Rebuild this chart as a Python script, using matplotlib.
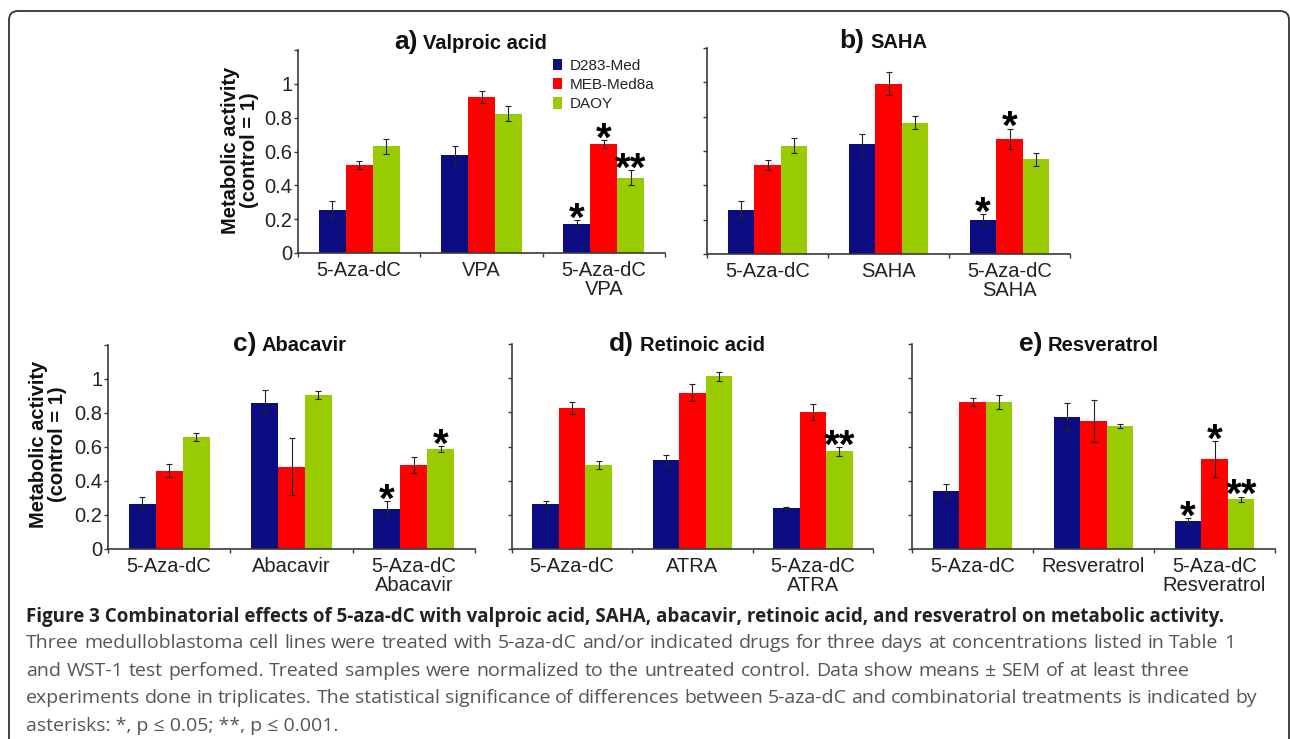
import matplotlib
matplotlib.use('Agg')
import matplotlib.pyplot as plt
import numpy as np
from matplotlib.patches import FancyBboxPatch
from matplotlib.transforms import IdentityTransform

plt.rcParams['font.family'] = ['Liberation Sans', 'DejaVu Sans']

W, H, DPI = 1290, 739, 100

# ---------------- data ----------------
series = ['D283-Med', 'MEB-Med8a', 'DAOY']
colors = ['#0B0B82', '#FF0000', '#99CC00']

a_title = ('a)', 'Valproic acid')
a_labels = ['5-Aza-dC', 'VPA', '5-Aza-dC\nVPA']
a_d283 = [0.256, 0.579, 0.171]
a_d283_err = [0.049, 0.051, 0.024]
a_meb = [0.518, 0.923, 0.644]
a_meb_err = [0.023, 0.034, 0.023]
a_daoy = [0.630, 0.823, 0.445]
a_daoy_err = [0.043, 0.045, 0.043]
a_stars = [['', '', '*'], ['', '', '*'], ['', '', '**']]

b_title = ('b)', 'SAHA')
b_labels = ['5-Aza-dC', 'SAHA', '5-Aza-dC\nSAHA']
b_d283 = [0.258, 0.641, 0.200]
b_d283_err = [0.049, 0.058, 0.031]
b_meb = [0.517, 0.992, 0.670]
b_meb_err = [0.029, 0.068, 0.060]
b_daoy = [0.631, 0.765, 0.551]
b_daoy_err = [0.045, 0.039, 0.039]
b_stars = [['', '', '*'], ['', '', '*'], ['', '', '']]

c_title = ('c)', 'Abacavir')
c_labels = ['5-Aza-dC', 'Abacavir', '5-Aza-dC\nAbacavir']
c_d283 = [0.264, 0.861, 0.233]
c_d283_err = [0.039, 0.072, 0.047]
c_meb = [0.460, 0.485, 0.493]
c_meb_err = [0.039, 0.168, 0.047]
c_daoy = [0.658, 0.904, 0.587]
c_daoy_err = [0.025, 0.024, 0.016]
c_stars = [['', '', '*'], ['', '', ''], ['', '', '*']]

d_title = ('d)', 'Retinoic acid')
d_labels = ['5-Aza-dC', 'ATRA', '5-Aza-dC\nATRA']
d_d283 = [0.263, 0.519, 0.240]
d_d283_err = [0.016, 0.033, 0.006]
d_meb = [0.825, 0.916, 0.801]
d_meb_err = [0.035, 0.051, 0.045]
d_daoy = [0.491, 1.012, 0.571]
d_daoy_err = [0.023, 0.027, 0.025]
d_stars = [['', '', ''], ['', '', ''], ['', '', '**']]

e_title = ('e)', 'Resveratrol')
e_labels = ['5-Aza-dC', 'Resveratrol', '5-Aza-dC\nResveratrol']
e_d283 = [0.339, 0.772, 0.164]
e_d283_err = [0.043, 0.080, 0.017]
e_meb = [0.858, 0.749, 0.526]
e_meb_err = [0.023, 0.123, 0.105]
e_daoy = [0.862, 0.719, 0.290]
e_daoy_err = [0.041, 0.012, 0.017]
e_stars = [['', '', '*'], ['', '', '*'], ['', '', '**']]

y_ticks = [0, 0.2, 0.4, 0.6, 0.8, 1.0, 1.2]
y_ticklabels = ['0', '0.2', '0.4', '0.6', '0.8', '1', '']
y_label = 'Metabolic activity\n(control = 1)'

caption_title = ('Figure 3 Combinatorial effects of 5-aza-dC with valproic acid, SAHA, '
                 'abacavir, retinoic acid, and resveratrol on metabolic activity.')
caption_lines = [
    'Three medulloblastoma cell lines were treated with 5-aza-dC and/or indicated drugs for three days at concentrations listed in Table 1',
    'and WST-1 test perfomed. Treated samples were normalized to the untreated control. Data show means \u00b1 SEM of at least three',
    'experiments done in triplicates. The statistical significance of differences between 5-aza-dC and combinatorial treatments is indicated by',
    'asterisks: *, p \u2264 0.05; **, p \u2264 0.001.',
]

# ---------------- figure ----------------
fig = plt.figure(figsize=(W / DPI, H / DPI), dpi=DPI)


def fx(px):
    return px / W


def fy(py):
    return 1 - py / H


def make_axes(left, top, right, bottom):
    return fig.add_axes([fx(left), fy(bottom), fx(right - left), (bottom - top) / H])


def draw_panel(ax, labels, vals, errs, stars, show_ylabels):
    x = np.arange(len(labels))
    w = 0.22
    offs = [-w, 0, w]
    for i, (v, e, c) in enumerate(zip(vals, errs, colors)):
        ax.bar(x + offs[i], v, w, color=c, label=series[i], zorder=2,
               yerr=e, capsize=2.2,
               error_kw=dict(elinewidth=0.8, ecolor='#222222', capthick=0.8))
        for j in range(len(labels)):
            s = stars[i][j]
            if s:
                ax.annotate(s, (x[j] + offs[i], v[j] + e[j]), xytext=(0, -7.5),
                            textcoords='offset points', ha='center', va='baseline',
                            fontsize=29, fontweight='bold', color='black')
    ax.set_xlim(-0.5, 2.5)
    ax.set_ylim(0, 1.2)
    for sp in ['top', 'right']:
        ax.spines[sp].set_visible(False)
    for sp in ['left', 'bottom']:
        ax.spines[sp].set_color('#3a3a3a')
        ax.spines[sp].set_linewidth(1.2)
    ax.set_yticks(y_ticks)
    if show_ylabels:
        ax.set_yticklabels(y_ticklabels)
    else:
        ax.set_yticklabels([''] * len(y_ticks))
    ax.tick_params(axis='y', direction='out', length=3, width=1, color='#3a3a3a',
                   pad=1, labelsize=14.5, labelcolor='#222222')
    ax.set_xticks(x)
    ax.set_xticklabels(labels)
    ax.set_xticks([-0.5, 0.5, 1.5, 2.5], minor=True)
    ax.tick_params(axis='x', which='major', length=0, pad=6, labelsize=14.5,
                   labelcolor='#222222')
    ax.tick_params(axis='x', which='minor', direction='out', length=3, width=1,
                   color='#3a3a3a')
    for t in ax.get_xticklabels():
        t.set_linespacing(1.0)


def panel_title(title, x_right, x_left, y_base):
    fig.text(fx(x_right), fy(y_base), title[0], ha='right', va='baseline',
             fontsize=19, fontweight='bold', color='#111111')
    fig.text(fx(x_left), fy(y_base), title[1], ha='left', va='baseline',
             fontsize=14.5, fontweight='bold', color='#111111')


# panel a
ax_a = make_axes(298, 50, 665, 253)
draw_panel(ax_a, a_labels, [a_d283, a_meb, a_daoy], [a_d283_err, a_meb_err, a_daoy_err],
           a_stars, True)
panel_title(a_title, 418, 423, 49)
leg = ax_a.legend(loc='upper left', bbox_to_anchor=((553 - 298) / 367, (253 - 59) / 203),
                  frameon=False, fontsize=11, handlelength=0.6, handleheight=0.75,
                  handletextpad=0.5, labelspacing=0.34, borderpad=0, borderaxespad=0)
for t in leg.get_texts():
    t.set_color('#222222')

# panel b
ax_b = make_axes(707, 48, 1070, 254)
draw_panel(ax_b, b_labels, [b_d283, b_meb, b_daoy], [b_d283_err, b_meb_err, b_daoy_err],
           b_stars, False)
panel_title(b_title, 864, 870, 48)

# panel c
ax_c = make_axes(108, 345, 475, 549)
draw_panel(ax_c, c_labels, [c_d283, c_meb, c_daoy], [c_d283_err, c_meb_err, c_daoy_err],
           c_stars, True)
panel_title(c_title, 256, 262, 351)

# panel d
ax_d = make_axes(512, 344, 873, 549)
draw_panel(ax_d, d_labels, [d_d283, d_meb, d_daoy], [d_d283_err, d_meb_err, d_daoy_err],
           d_stars, False)
panel_title(d_title, 634, 640, 351)

# panel e
ax_e = make_axes(912, 344, 1275, 549)
draw_panel(ax_e, e_labels, [e_d283, e_meb, e_daoy], [e_d283_err, e_meb_err, e_daoy_err],
           e_stars, False)
panel_title(e_title, 1043, 1048, 351)

# y labels
fig.text(fx(240), fy(150), y_label, rotation=90, ha='center', va='center',
         multialignment='center', fontsize=14.5, fontweight='bold', linespacing=0.95,
         color='#111111')
fig.text(fx(48), fy(444), y_label, rotation=90, ha='center', va='center',
         multialignment='center', fontsize=14.5, fontweight='bold', linespacing=0.95,
         color='#111111')

# border
border = FancyBboxPatch((9, -30), 1280, 739 - 11 + 30,
                        boxstyle='round,pad=0,rounding_size=9',
                        transform=IdentityTransform(), fill=False,
                        edgecolor='#333333', linewidth=1.3)
fig.patches.append(border)

# caption
cap_font = ['Open Sans', 'DejaVu Sans']
fig.text(fx(26), fy(622), caption_title, ha='left', va='baseline',
         family=cap_font, fontsize=13.5, fontweight='bold', color='#222222')

BODY_SIZE = 14.0
renderer = fig.canvas.get_renderer()
line_ends = [1235, 1190, 1257, None]
line_bases = [648, 676, 703, 731]
for line, xend, yb in zip(caption_lines, line_ends, line_bases):
    if xend is None:
        fig.text(fx(26), fy(yb), line, ha='left', va='baseline', family=cap_font,
                 fontsize=BODY_SIZE, color='#555555')
        continue
    words = line.split(' ')
    texts = [fig.text(0, 0, wd, ha='left', va='baseline', family=cap_font,
                      fontsize=BODY_SIZE, color='#555555') for wd in words]
    widths = [t.get_window_extent(renderer).width for t in texts]
    gap = max((xend - 26 - sum(widths)) / (len(words) - 1), 3.0)
    xp = 26
    for t, wd in zip(texts, widths):
        t.set_position((fx(xp), fy(yb)))
        xp += wd + gap

fig.savefig('out.png', dpi=DPI)
